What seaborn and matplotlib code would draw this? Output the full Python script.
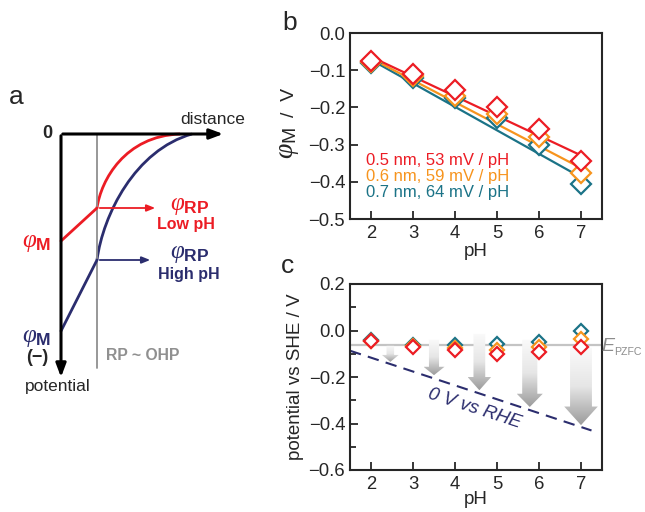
import numpy as np
import pandas as pd
import seaborn as sns
import matplotlib.pyplot as plt
from matplotlib.path import Path
from matplotlib.patches import PathPatch, Polygon
from matplotlib.colors import LinearSegmentedColormap

sns.set_style('ticks')
plt.rcParams['font.family'] = ['Liberation Sans', 'DejaVu Sans']
plt.rcParams['mathtext.fontset'] = 'custom'
plt.rcParams['mathtext.it'] = 'Liberation Serif:italic'
plt.rcParams['mathtext.rm'] = 'Liberation Sans'
plt.rcParams['mathtext.bf'] = 'Liberation Sans:bold'
plt.rcParams['mathtext.sf'] = 'Liberation Sans:italic'
plt.rcParams['xtick.direction'] = 'in'
plt.rcParams['ytick.direction'] = 'in'

RED = '#ec1c24'
ORANGE = '#f7941d'
TEAL = '#1b7387'
NAVY = '#2b2d6e'
GRAY = '#8c8c8c'

# ---- data ----
ph = [2, 3, 4, 5, 6, 7]
labels_b = ['0.5 nm, 53 mV / pH', '0.6 nm, 59 mV / pH', '0.7 nm, 64 mV / pH']
phiM_red = [-0.074, -0.109, -0.154, -0.199, -0.259, -0.344]
phiM_orange = [-0.078, -0.115, -0.170, -0.219, -0.279, -0.377]
phiM_teal = [-0.080, -0.122, -0.176, -0.228, -0.302, -0.406]
fit_ph = [2, 7]
fit_red = [-0.064, -0.329]
fit_orange = [-0.068, -0.363]
fit_teal = [-0.072, -0.388]

she_red = [-0.046, -0.072, -0.085, -0.099, -0.093, -0.073]
she_orange = [-0.044, -0.068, -0.077, -0.082, -0.073, -0.036]
she_teal = [-0.042, -0.063, -0.062, -0.059, -0.049, -0.004]
e_pzfc = -0.063
rhe_ph = [1.5, 7.25]
rhe_v = [-0.087, -0.430]

arrow_ph = [2.46, 3.5, 4.58, 5.78, 7.0]
arrow_top = [-0.066, -0.040, -0.015, -0.040, -0.075]
arrow_tip = [-0.135, -0.192, -0.257, -0.329, -0.407]
arrow_shaft = [0.18, 0.24, 0.28, 0.36, 0.52]
arrow_head = [0.40, 0.50, 0.56, 0.62, 0.80]
arrow_headlen = [0.030, 0.036, 0.057, 0.057, 0.080]

yb_ticks = [-0.5, -0.4, -0.3, -0.2, -0.1, 0.0]
yc_ticks = [-0.6, -0.4, -0.2, 0.0, 0.2]
yc_minor = [-0.5, -0.3, -0.1, 0.1]


def fmt(v):
    s = f'{v:.1f}'
    return '0.0' if s in ('-0.0', '0.0') else s.replace('-', '\u2212')


fig = plt.figure(figsize=(6.45, 5.12), dpi=100)

# ---- panel a (schematic, pixel coordinates) ----
axa = fig.add_axes([0, 0, 1, 1])
axa.set_xlim(0, 645)
axa.set_ylim(512, 0)
axa.axis('off')

axa.plot([97, 97], [134, 368], color='#909090', lw=1.3)
axa.annotate('', xy=(226, 134), xytext=(60, 134),
             arrowprops=dict(arrowstyle='-|>,head_length=0.8,head_width=0.3', color='black', lw=2.2))
axa.annotate('', xy=(61, 380), xytext=(61, 133),
             arrowprops=dict(arrowstyle='-|>,head_length=0.8,head_width=0.3', color='black', lw=2.2))

red_line_x = [61, 97]
red_line_y = [241, 208]
navy_line_x = [61, 97]
navy_line_y = [331, 260]
red_curve = [(97, 208), (101, 180), (125, 136), (180, 134)]
navy_curve = [(97, 260), (103, 215), (135, 150), (192, 134)]
codes = [Path.MOVETO, Path.CURVE4, Path.CURVE4, Path.CURVE4]
axa.plot(navy_line_x, navy_line_y, color=NAVY, lw=2)
axa.add_patch(PathPatch(Path(navy_curve, codes), fc='none', ec=NAVY, lw=2))
axa.plot(red_line_x, red_line_y, color=RED, lw=2)
axa.add_patch(PathPatch(Path(red_curve, codes), fc='none', ec=RED, lw=2))

axa.annotate('', xy=(158, 208), xytext=(97, 208),
             arrowprops=dict(arrowstyle='-|>,head_length=0.5,head_width=0.2', color=RED, lw=1.3))
axa.annotate('', xy=(153, 260), xytext=(97, 260),
             arrowprops=dict(arrowstyle='-|>,head_length=0.5,head_width=0.2', color=NAVY, lw=1.3))

axa.text(9, 97, 'a', fontsize=19, va='center')
axa.text(47, 134, '0', fontsize=13, fontweight='bold', ha='center', va='center')
axa.text(213, 119, 'distance', fontsize=12.5, ha='center', va='center')
axa.text(37, 242, r'$\varphi_{\mathbf{M}}$', fontsize=18, color=RED, ha='center', va='center')
axa.text(190, 205, r'$\varphi_{\mathbf{RP}}$', fontsize=18, color=RED, ha='center', va='center')
axa.text(186, 224, 'Low pH', fontsize=11.5, fontweight='bold', color=RED, ha='center', va='center')
axa.text(190, 253, r'$\varphi_{\mathbf{RP}}$', fontsize=18, color=NAVY, ha='center', va='center')
axa.text(189, 274, 'High pH', fontsize=11.5, fontweight='bold', color=NAVY, ha='center', va='center')
axa.text(37, 337, r'$\varphi_{\mathbf{M}}$', fontsize=18, color=NAVY, ha='center', va='center')
axa.text(37, 357, '(\u2212)', fontsize=13, fontweight='bold', ha='center', va='center')
axa.text(58, 386, 'potential', fontsize=12.5, ha='center', va='center')
axa.text(143, 356, 'RP ~ OHP', fontsize=11.3, fontweight='bold', color='#909090', ha='center', va='center')
axa.text(290, 23, 'b', fontsize=19, ha='center', va='center')
axa.text(287, 266, 'c', fontsize=19, ha='center', va='center')
# y label of panel b: large phi, smaller "/ V"
axa.text(288, 143, r'$\varphi_{\mathrm{M}}$', fontsize=20, rotation=90, ha='center', va='center')
axa.text(289, 102, '/  V', fontsize=14, rotation=90, ha='center', va='center')

# ---- panel b ----
axb = fig.add_axes([350 / 645, 1 - 219 / 512, 252 / 645, 186 / 512])
series_b = [(fit_teal, phiM_teal, TEAL), (fit_orange, phiM_orange, ORANGE), (fit_red, phiM_red, RED)]
for fit, vals, col in series_b:
    sns.lineplot(x=fit_ph, y=fit, color=col, lw=1.6, ax=axb, zorder=2)
for fit, vals, col in series_b:
    sns.lineplot(x=ph, y=vals, color=col, marker='D', linestyle='none', markersize=10,
                 markerfacecolor='white', markeredgecolor=col, markeredgewidth=1.6, ax=axb, zorder=3)
for i, (lab, col) in enumerate(zip(labels_b, [RED, ORANGE, TEAL])):
    axb.text(1.87, -0.342 - 0.044 * i, lab, color=col, fontsize=12, va='center')
axb.set_xlim(1.5, 7.5)
axb.set_ylim(-0.5, 0.0)
axb.set_xticks(ph)
axb.set_yticks(yb_ticks)
axb.set_yticklabels([fmt(v) for v in yb_ticks])
axb.set_xlabel('pH', fontsize=13.5, labelpad=1)
axb.set_ylabel('')

# ---- panel c ----
axc = fig.add_axes([350 / 645, 1 - 470 / 512, 252 / 645, 186 / 512])
axc.axhline(e_pzfc, color='#c4c4c4', lw=1.6, zorder=1)
cmap = LinearSegmentedColormap.from_list('fade', ['#fafafa', '#e6e6e6', '#9c9c9c'])
grad = np.linspace(0, 1, 200).reshape(-1, 1)
for x0, top, tip, sw, hw, hl in zip(arrow_ph, arrow_top, arrow_tip, arrow_shaft, arrow_head, arrow_headlen):
    pts = [(x0 - sw / 2, top), (x0 + sw / 2, top), (x0 + sw / 2, tip + hl), (x0 + hw / 2, tip + hl),
           (x0, tip), (x0 - hw / 2, tip + hl), (x0 - sw / 2, tip + hl)]
    poly = Polygon(pts, closed=True, fc='none', ec='none')
    axc.add_patch(poly)
    im = axc.imshow(grad, cmap=cmap, extent=(x0 - hw / 2, x0 + hw / 2, tip, top),
                    origin='upper', aspect='auto', zorder=1.5)
    im.set_clip_path(poly)
sns.lineplot(x=rhe_ph, y=rhe_v, color=NAVY, lw=1.5, ax=axc, zorder=2)
axc.lines[-1].set_dashes([5.5, 3.5])
for vals, col in [(she_teal, TEAL), (she_orange, ORANGE), (she_red, RED)]:
    sns.lineplot(x=ph, y=vals, color=col, marker='D', linestyle='none', markersize=7.5,
                 markerfacecolor='white', markeredgecolor=col, markeredgewidth=1.6, ax=axc, zorder=3)
axc.text(4.46, -0.336, '0 V vs RHE', fontsize=13.5, style='italic', color=NAVY,
         rotation=-18, ha='center', va='center', rotation_mode='anchor')
axc.text(7.49, -0.07, 'E', fontsize=14, style='italic', color=GRAY,
         ha='left', va='center', clip_on=False)
axc.annotate('PZFC', xy=(7.49, -0.07), xytext=(9.3, -4), textcoords='offset points',
             fontsize=7.6, color=GRAY, ha='left', va='center', annotation_clip=False)
axc.set_xlim(1.5, 7.5)
axc.set_ylim(-0.6, 0.2)
axc.set_xticks(ph)
axc.set_yticks(yc_ticks)
axc.set_yticklabels([fmt(v) for v in yc_ticks])
axc.set_yticks(yc_minor, minor=True)
axc.set_xlabel('pH', fontsize=13.5, labelpad=-1)
axc.set_ylabel('potential vs SHE / V', fontsize=13.5, labelpad=3)

for ax in (axb, axc):
    for s in ax.spines.values():
        s.set_linewidth(1.5)
        s.set_visible(True)
    ax.tick_params(which='major', length=6, width=1.3, labelsize=13.3)
    ax.tick_params(which='minor', length=4, width=1.3)
    ax.tick_params(axis='x', pad=4)

fig.savefig('out.png', dpi=100)
